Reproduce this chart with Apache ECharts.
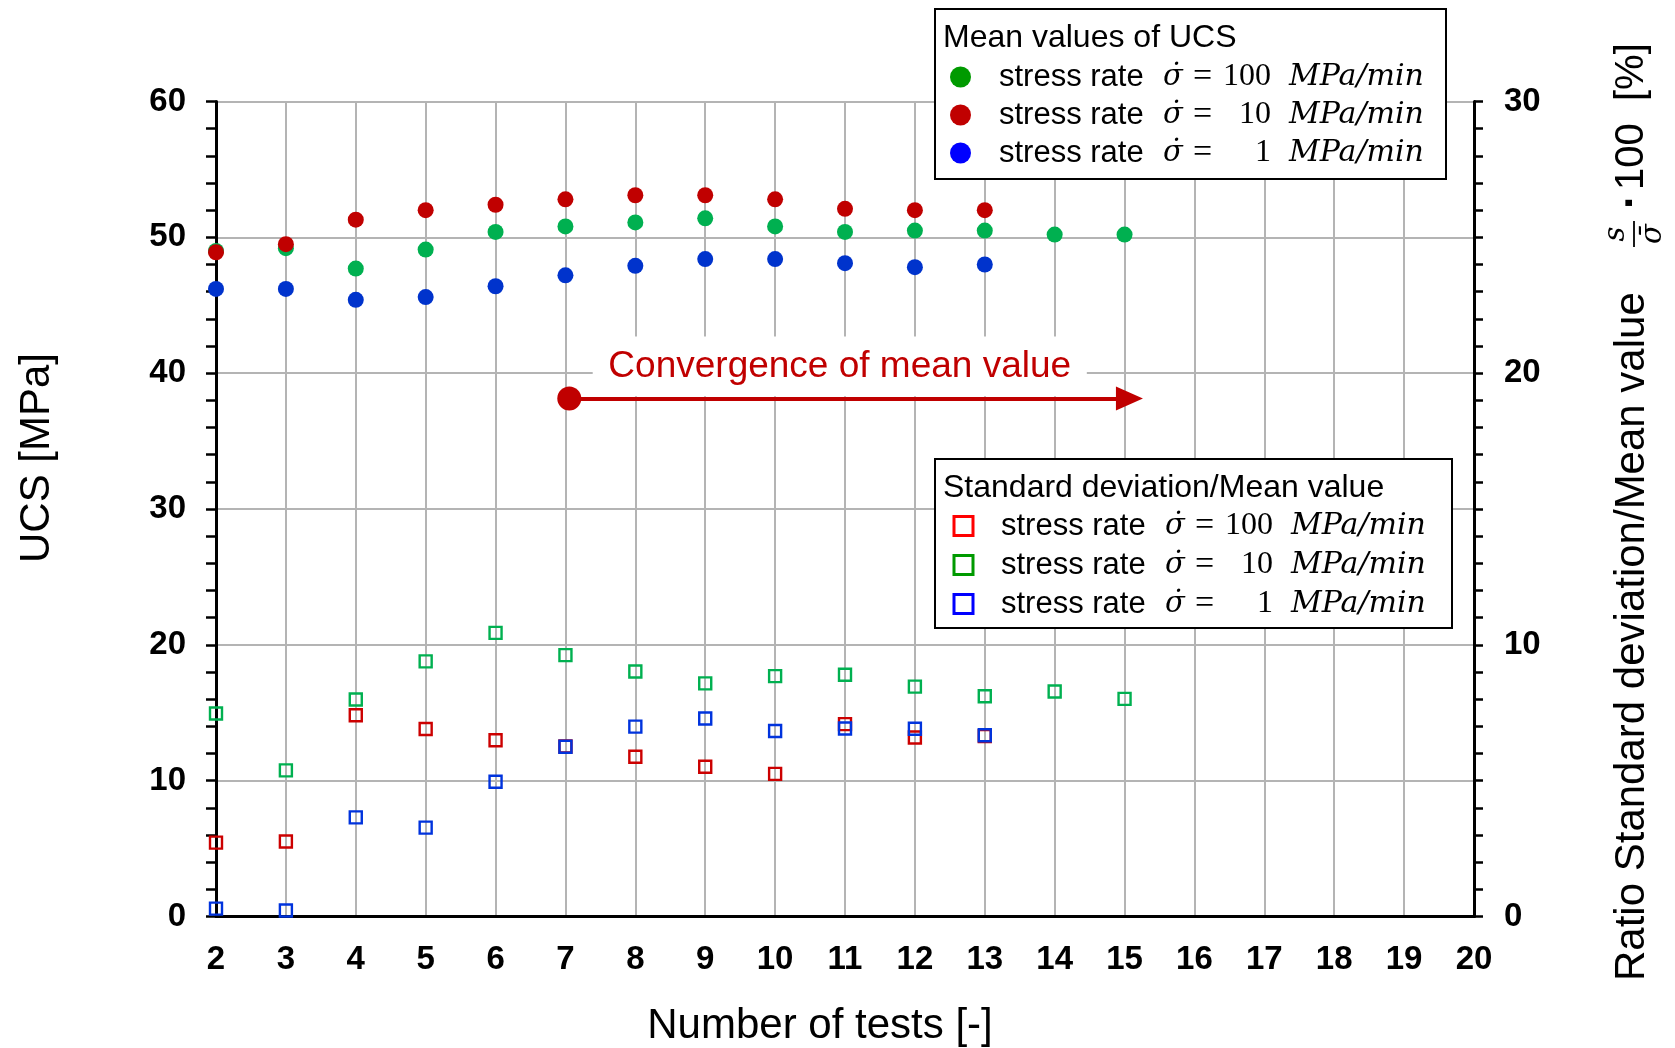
<!DOCTYPE html>
<html><head><meta charset="utf-8">
<script src="https://cdn.jsdelivr.net/npm/echarts@6/dist/echarts.min.js"></script>
<style>html,body{margin:0;padding:0;background:#fff}#c{width:1675px;height:1048px}</style>
</head><body><div id="c"></div>
<script>
// ---------- data ----------
const testsLong  = [2,3,4,5,6,7,8,9,10,11,12,13,14,15];
const testsShort = [2,3,4,5,6,7,8,9,10,11,12,13];
// mean UCS [MPa] (left axis)
const meanUCS_100 = [49.0,49.2,47.7,49.1,50.4,50.8,51.1,51.4,50.8,50.4,50.5,50.5,50.2,50.2];
const meanUCS_10  = [48.9,49.5,51.3,52.0,52.4,52.8,53.1,53.1,52.8,52.1,52.0,52.0];
const meanUCS_1   = [46.2,46.2,45.4,45.6,46.4,47.2,47.9,48.4,48.4,48.1,47.8,48.0];
// ratio std / mean [%] (right axis)
const ratio_red   = [2.72,2.76,7.41,6.90,6.49,6.26,5.88,5.51,5.25,7.08,6.59,6.64];
const ratio_green = [7.47,5.38,7.99,9.39,10.44,9.62,9.02,8.58,8.85,8.90,8.46,8.11,8.28,8.01];
const ratio_blue  = [0.29,0.22,3.65,3.27,4.96,6.25,6.99,7.29,6.83,6.92,6.91,6.67];
// axes
const xRange = [2, 20], xStep = 1;
const leftRange = [0, 60], leftStep = 10;
const rightRange = [0, 30], rightStep = 10;
// annotation
const annoText = 'Convergence of mean value';
const annoBox = [[7.39, 42.7], [14.46, 38.3]];
const annoArrow = [[7.055, 38.14], [15.07, 38.14]];
// legend labels
const rateOf = {m100:'100', m10:'10', m1:'1', s100:'100', s10:'10', s1:'1'};

const pairs = (xs, ys) => xs.map((x, i) => [x, ys[i]]);
const SANS = '"Liberation Sans", Arial, sans-serif';

const chart = echarts.init(document.getElementById('c'), null, {renderer:'canvas'});

function legendFmt(name){
  const r = rateOf[name];
  const st = r === '100' ? 'n3' : (r === '10' ? 'n2' : 'n1');
  return '{sp| }{lab|stress rate}{sig|σ̇}{eq|=}{' + st + '|' + r + '}{gap| }{unit|MPa/min}';
}
const LH = 38;
const rich = {
  sp:  {width:23, lineHeight:LH, fontSize:10},
  lab: {width:164, fontFamily:SANS, fontSize:31, color:'#000', lineHeight:LH},
  sig: {width:30, fontFamily:'"DejaVu Serif", serif', fontStyle:'italic', fontSize:29, color:'#000', lineHeight:LH},
  eq:  {width:30, fontFamily:'"Liberation Serif", serif', fontSize:34, color:'#000', lineHeight:LH},
  n3:  {fontFamily:'"Liberation Serif", serif', fontSize:32, color:'#000', lineHeight:LH, padding:[0,0,0,0]},
  n2:  {fontFamily:'"Liberation Serif", serif', fontSize:32, color:'#000', lineHeight:LH, padding:[0,0,0,16]},
  n1:  {fontFamily:'"Liberation Serif", serif', fontSize:32, color:'#000', lineHeight:LH, padding:[0,0,0,32]},
  gap: {width:18, lineHeight:LH, fontSize:10},
  unit:{fontFamily:'"DejaVu Serif", serif', fontStyle:'italic', fontSize:30, color:'#000', lineHeight:LH}
};

const gridLine = {show:true, lineStyle:{color:'#b4b4b4', width:2}};
const tickStyle = {color:'#000', width:2.5};
const lblStyle = {fontFamily:SANS, fontSize:33, fontWeight:'bold', color:'#000'};
const dotStyle = c => ({color:c, opacity:1});
const sqStyle = c => ({color:'rgba(0,0,0,0)', borderColor:c, borderWidth:2.4, opacity:1});

const option = {
  animation:false,
  backgroundColor:'#fff',
  grid:{left:216, right:201, top:101.5, bottom:131.5, containLabel:false, outerBoundsMode:'none'},
  xAxis:{
    type:'value', min:xRange[0], max:xRange[1], interval:xStep,
    axisLine:{show:true, onZero:false, lineStyle:{color:'#000', width:3}},
    axisTick:{show:false},
    splitLine:gridLine,
    axisLabel:Object.assign({margin:27}, lblStyle),
    name:'Number of tests [-]', nameLocation:'middle', nameGap:89,
    nameTextStyle:{fontFamily:SANS, fontSize:42, color:'#000', padding:[0,50,0,0]}
  },
  yAxis:[
    {
      type:'value', min:leftRange[0], max:leftRange[1], interval:leftStep, position:'left',
      axisLine:{show:true, lineStyle:{color:'#000', width:3}},
      axisTick:{show:true, length:10, lineStyle:tickStyle},
      minorTick:{show:true, splitNumber:5, length:10, lineStyle:tickStyle},
      splitLine:gridLine,
      axisLabel:Object.assign({margin:30}, lblStyle),
      name:'UCS [MPa]', nameLocation:'middle', nameGap:158,
      nameTextStyle:{fontFamily:SANS, fontSize:42, color:'#000', padding:[0,0,0,102]}
    },
    {
      type:'value', min:rightRange[0], max:rightRange[1], interval:rightStep, position:'right',
      axisLine:{show:true, lineStyle:{color:'#000', width:3}},
      axisTick:{show:true, length:9, lineStyle:tickStyle},
      minorTick:{show:true, splitNumber:10, length:9, lineStyle:tickStyle},
      splitLine:{show:false},
      axisLabel:Object.assign({margin:30}, lblStyle)
    }
  ],
  legend:[
    {
      data:[
        {name:'m100', itemStyle:{color:'#009a00', opacity:1}},
        {name:'m10',  itemStyle:{color:'#c00000', opacity:1}},
        {name:'m1',   itemStyle:{color:'#0000ff', opacity:1}}
      ],
      orient:'vertical', left:950, top:58, padding:0, itemGap:0,
      itemWidth:21, itemHeight:21, icon:'circle', selectedMode:false, z:10,
      formatter:legendFmt, textStyle:{fontSize:31, lineHeight:LH, rich:rich}
    },
    {
      data:[
        {name:'s100', icon:'rect', itemStyle:{color:'rgba(0,0,0,0)', borderColor:'#ff0000', borderWidth:3, opacity:1}},
        {name:'s10',  icon:'rect', itemStyle:{color:'rgba(0,0,0,0)', borderColor:'#009a00', borderWidth:3, opacity:1}},
        {name:'s1',   icon:'rect', itemStyle:{color:'rgba(0,0,0,0)', borderColor:'#0000ff', borderWidth:3, opacity:1}}
      ],
      orient:'vertical', left:952.5, top:507, padding:0, itemGap:1,
      itemWidth:19, itemHeight:19, selectedMode:false, z:10,
      formatter:legendFmt, textStyle:{fontSize:31, lineHeight:LH, rich:rich}
    }
  ],
  graphic:[
    {type:'rect', z:5, shape:{x:935, y:9, width:511, height:170}, style:{fill:'#fff', stroke:'#000', lineWidth:2}},
    {type:'text', z:6, x:943, y:38, style:{text:'Mean values of UCS', fontFamily:SANS, fontSize:32, fill:'#000', verticalAlign:'middle'}},
    {type:'rect', z:5, shape:{x:935, y:459, width:517, height:169}, style:{fill:'#fff', stroke:'#000', lineWidth:2}},
    {type:'text', z:6, x:943, y:488, style:{text:'Standard deviation/Mean value', fontFamily:SANS, fontSize:32, fill:'#000', verticalAlign:'middle'}},
    {type:'group', x:1632, y:981, rotation:Math.PI/2, children:[
      {type:'text', x:0, y:0, style:{text:'Ratio Standard deviation/Mean value', fontFamily:SANS, fontSize:42, fill:'#000', align:'left', verticalAlign:'middle'}},
      {type:'text', x:747, y:-16, style:{text:'s', fontFamily:'"DejaVu Serif", serif', fontStyle:'italic', fontSize:29, fill:'#000', align:'center', verticalAlign:'middle'}},
      {type:'line', shape:{x1:734, y1:2, x2:760, y2:2}, style:{stroke:'#000', lineWidth:1.8}},
      {type:'text', x:747, y:21, style:{text:'σ̄', fontFamily:'"DejaVu Serif", serif', fontStyle:'italic', fontSize:29, fill:'#000', align:'center', verticalAlign:'middle'}},
      {type:'text', x:772, y:0, style:{text:'·', fontFamily:SANS, fontSize:44, fontWeight:'bold', fill:'#000', align:'left', verticalAlign:'middle'}},
      {type:'text', x:791, y:0, style:{text:'100', fontFamily:SANS, fontSize:40, fill:'#000', align:'left', verticalAlign:'middle'}},
      {type:'text', x:880, y:0, style:{text:'[%]', fontFamily:SANS, fontSize:40, fill:'#000', align:'left', verticalAlign:'middle'}}
    ]}
  ],
  series:[
    {
      name:'anno', type:'scatter', data:[], silent:true, yAxisIndex:0,
      markArea:{
        silent:true,
        itemStyle:{color:'#ffffff'},
        label:{show:true, position:'inside', formatter:annoText, color:'#c00000', fontFamily:SANS, fontSize:37},
        data:[[{coord:annoBox[0]}, {coord:annoBox[1]}]]
      },
      markLine:{
        silent:true, symbol:['circle','triangle'], symbolSize:[24,27],
        lineStyle:{color:'#c00000', width:4, type:'solid', opacity:1},
        label:{show:false},
        data:[[{coord:annoArrow[0]}, {coord:annoArrow[1]}]]
      }
    },
    {name:'m100', type:'scatter', yAxisIndex:0, symbol:'circle', symbolSize:16, data:pairs(testsLong, meanUCS_100), itemStyle:dotStyle('#00b050')},
    {name:'m10',  type:'scatter', yAxisIndex:0, symbol:'circle', symbolSize:16, data:pairs(testsShort, meanUCS_10), itemStyle:dotStyle('#c00000')},
    {name:'m1',   type:'scatter', yAxisIndex:0, symbol:'circle', symbolSize:16, data:pairs(testsShort, meanUCS_1), itemStyle:dotStyle('#0033cc')},
    {name:'s10',  type:'scatter', yAxisIndex:1, symbol:'rect', symbolSize:12, data:pairs(testsLong, ratio_green), itemStyle:sqStyle('#00b050')},
    {name:'s100', type:'scatter', yAxisIndex:1, symbol:'rect', symbolSize:12, data:pairs(testsShort, ratio_red), itemStyle:sqStyle('#cc0000')},
    {name:'s1',   type:'scatter', yAxisIndex:1, symbol:'rect', symbolSize:12, data:pairs(testsShort, ratio_blue), itemStyle:sqStyle('#0033dd')}
  ]
};
chart.setOption(option);
</script></body></html>
